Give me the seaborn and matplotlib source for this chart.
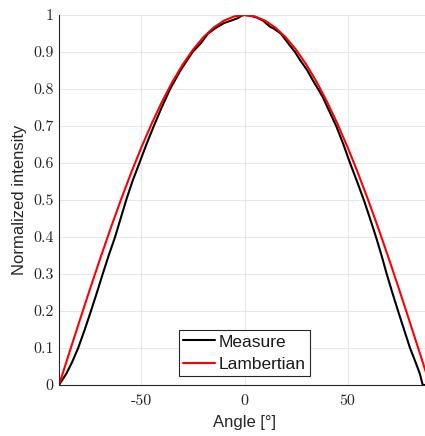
import numpy as np
import pandas as pd
import matplotlib
matplotlib.use("Agg")
import matplotlib.pyplot as plt
import seaborn as sns

# ---- data ----
measure_angle = [-90, -86.5, -83.8, -80.7, -77.5, -74.5, -71.6, -68.8, -65.9, -62.8,
                 -60.1, -57.4, -54.4, -51.0, -47.6, -44.0, -40.2, -36.1, -31.1, -25.2,
                 -21.0, -17.7, -14.0, -10.0, -6.0, -3.0, -1.5, 0.0, 3.0, 6.0,
                 9.0, 11.0, 12.5, 14.0, 17.6, 21.0, 24.5, 27.0, 30.5, 33.0,
                 35.7, 38.0, 40.3, 44.5, 48.0, 51.2, 54.6, 57.9, 60.9, 63.8,
                 66.5, 69.0, 71.7, 74.5, 77.4, 80.3, 83.1, 85.1, 86.0, 86.5, 90.0]
measure_value = [0.0, 0.03, 0.06, 0.10, 0.15, 0.20, 0.25, 0.30, 0.35, 0.40,
                 0.45, 0.50, 0.55, 0.60, 0.65, 0.70, 0.75, 0.80, 0.85, 0.90,
                 0.925, 0.95, 0.965, 0.978, 0.986, 0.992, 0.998, 1.0, 0.998, 0.993,
                 0.985, 0.975, 0.968, 0.964, 0.95, 0.925, 0.90, 0.878, 0.85, 0.825,
                 0.80, 0.778, 0.75, 0.70, 0.65, 0.60, 0.55, 0.50, 0.45, 0.40,
                 0.35, 0.30, 0.25, 0.20, 0.15, 0.10, 0.06, 0.03, 0.01, 0.0, 0.0]

lamb_angle = [-90, -85, -80, -75, -70, -65, -60, -55, -50, -45, -40, -35, -30, -25,
              -20, -15, -10, -5, 0, 5, 10, 15, 20, 25, 30, 35, 40, 45, 50, 55, 60,
              65, 70, 75, 80, 85, 90]
lamb_value = [0.0, 0.0872, 0.1736, 0.2588, 0.3420, 0.4226, 0.5, 0.5736, 0.6428,
              0.7071, 0.7660, 0.8192, 0.8660, 0.9063, 0.9397, 0.9659, 0.9848, 0.9962,
              1.0, 0.9962, 0.9848, 0.9659, 0.9397, 0.9063, 0.8660, 0.8192, 0.7660,
              0.7071, 0.6428, 0.5736, 0.5, 0.4226, 0.3420, 0.2588, 0.1736, 0.0872, 0.0]

x_ticks = [-50, 0, 50]
x_tick_labels = ["-50", "0", "50"]
y_ticks = [0, 0.1, 0.2, 0.3, 0.4, 0.5, 0.6, 0.7, 0.8, 0.9, 1.0]
y_tick_labels = ["0", "0.1", "0.2", "0.3", "0.4", "0.5", "0.6", "0.7", "0.8", "0.9", "1"]

df = pd.concat([
    pd.DataFrame({"angle": measure_angle, "value": measure_value, "series": "Measure"}),
    pd.DataFrame({"angle": lamb_angle, "value": lamb_value, "series": "Lambertian"}),
], ignore_index=True)

sns.set_theme(style="white")
plt.rcParams["font.family"] = ["Liberation Sans", "DejaVu Sans"]

W, H = 425, 436
AX_L, AX_R, AX_B, AX_T = 59, 430, 385, 15
fig = plt.figure(figsize=(W / 100, H / 100), dpi=100)
ax = fig.add_axes([AX_L / W, (H - AX_B) / H, (AX_R - AX_L) / W, (AX_B - AX_T) / H])

sns.lineplot(data=df, x="angle", y="value", hue="series", estimator=None, sort=False,
             palette={"Measure": "#000000", "Lambertian": "#ff0000"},
             linewidth=1.5, ax=ax, legend=True)

ax.set_xlim(-90, 90)
ax.set_ylim(0, 1)
ax.set_xticks(x_ticks, labels=x_tick_labels)
ax.set_yticks(y_ticks, labels=y_tick_labels)
for lab in ax.get_xticklabels() + ax.get_yticklabels():
    lab.set_family("cmr10")
    lab.set_fontsize(11.5)
    lab.set_color("#262626")
ax.tick_params(axis="both", direction="in", length=3, width=0.6, color="#262626")
ax.tick_params(axis="x", pad=7)
ax.tick_params(axis="y", pad=4)

ax.grid(True, color="#e3e3e3", linewidth=0.6)
ax.set_axisbelow(True)
for s in ["top", "right"]:
    ax.spines[s].set_visible(False)
for s in ["left", "bottom"]:
    ax.spines[s].set_color("#262626")
    ax.spines[s].set_linewidth(0.8)

ax.set_xlabel("Angle [°]", fontsize=12, color="#262626")
ax.set_ylabel("Normalized intensity", fontsize=12, color="#262626")
axw, axh = AX_R - AX_L, AX_B - AX_T
ax.xaxis.set_label_coords((244.5 - AX_L) / axw, -(415 - AX_B) / axh)
ax.yaxis.set_label_coords(-(AX_L - 27) / axw, 0.5)

handles, labels = ax.get_legend_handles_labels()
leg = ax.legend(handles, labels, loc="lower left",
                bbox_to_anchor=(178.7 / W, (H - 376) / H), bbox_transform=fig.transFigure,
                fontsize=12.5, frameon=True, fancybox=False, framealpha=1,
                edgecolor="#262626", handlelength=1.85, handletextpad=0.22,
                borderpad=0.25, labelspacing=0.4, borderaxespad=0)
leg.get_frame().set_linewidth(0.8)
for line in leg.get_lines():
    line.set_linewidth(1.5)
for t in leg.get_texts():
    t.set_color("#1a1a1a")

fig.savefig("out.png", dpi=100)
